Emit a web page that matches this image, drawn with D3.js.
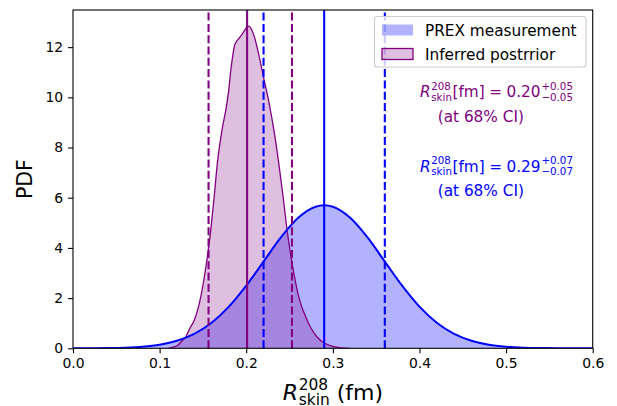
<!DOCTYPE html>
<html>
<head>
<meta charset="utf-8">
<script src="https://cdn.jsdelivr.net/npm/d3@7"></script>
<style>
  html, body { margin: 0; padding: 0; background: #fff; }
  svg { display: block; }
  text { font-family: "DejaVu Sans", sans-serif; }
</style>
</head>
<body>
<svg id="chart" width="617" height="406"></svg>
<script>
// ---------------- data ----------------
const prexX = [0.00,0.02,0.04,0.06,0.08,0.10,0.12,0.14,0.16,0.18,0.20,0.22,0.24,0.26,0.28,0.29,0.30,0.32,0.34,0.36,0.38,0.40,0.42,0.44,0.46,0.48,0.50,0.52,0.54,0.56,0.58,0.60];
const prexY = [0.001,0.003,0.010,0.026,0.063,0.143,0.299,0.574,1.016,1.658,2.494,3.457,4.416,5.199,5.641,5.699,5.641,5.199,4.416,3.457,2.494,1.658,1.016,0.574,0.299,0.143,0.063,0.026,0.010,0.003,0.001,0.0003];
// Inferred posterior PDF
const postX = [0.110,0.116,0.121,0.126,0.130,0.135,0.140,0.1475,0.154,0.159,0.163,0.1666,0.172,0.1774,0.180,0.182,0.184,0.1866,0.1916,0.196,0.2025,0.2088,0.2146,0.2203,0.2261,0.2318,0.2376,0.2426,0.2472,0.253,0.2606,0.2703,0.2818,0.290,0.300,0.310,0.320];
const postY = [0.0,0.05,0.12,0.30,0.45,0.80,1.12,2.05,3.38,4.70,6.03,7.36,8.69,9.69,10.35,11.02,11.55,12.08,12.35,12.55,12.84,12.48,11.68,10.75,9.82,8.72,7.36,6.03,4.70,3.38,2.05,1.12,0.45,0.21,0.08,0.02,0.0];
// summary lines: [median, low, high]
const prexStats = [0.29, 0.22, 0.36];
const postStats = [0.201, 0.1565, 0.2528];
const xTicks = [0.0,0.1,0.2,0.3,0.4,0.5,0.6];
const yTicks = [0,2,4,6,8,10,12];
const legendLabels = ["PREX measurement", "Inferred postrrior"];
const annotValues = [["0.20","+0.05","\u22120.05"],["0.29","+0.07","\u22120.07"]];

// ---------------- layout ----------------
const svg = d3.select("#chart");
const L = 73, R = 592.7, T = 10, B = 348.3;
const x = d3.scaleLinear().domain([0, 0.6]).range([L, R]);
const y = d3.scaleLinear().domain([0, 13.48]).range([B, T]);
const BLUE = "#0000ff", PURPLE = "#800080";

svg.append("defs").append("clipPath").attr("id","clip")
  .append("rect").attr("x",L).attr("y",T).attr("width",R-L).attr("height",B-T);
const plot = svg.append("g").attr("clip-path","url(#clip)");

const prex = prexX.map((d,i)=>({x:d,y:prexY[i]}));
const post = postX.map((d,i)=>({x:d,y:postY[i]}));
const area = d3.area().x(d=>x(d.x)).y0(y(0)).y1(d=>y(d.y)).curve(d3.curveMonotoneX);
const line = d3.line().x(d=>x(d.x)).y(d=>y(d.y)).curve(d3.curveMonotoneX);

plot.append("path").datum(prex).attr("d",area).attr("fill",BLUE).attr("fill-opacity",0.3);
plot.append("path").datum(post).attr("d",area).attr("fill",PURPLE).attr("fill-opacity",0.25);
plot.append("path").datum(post).attr("d",line).attr("fill","none").attr("stroke",PURPLE).attr("stroke-width",1.3);
plot.append("path").datum(prex).attr("d",line).attr("fill","none").attr("stroke",BLUE).attr("stroke-width",2);

function vline(v, color, dashed) {
  plot.append("line").attr("x1",x(v)).attr("x2",x(v)).attr("y1",y(0)).attr("y2",T)
    .attr("stroke",color).attr("stroke-width",2.1)
    .attr("stroke-dasharray", dashed ? "8,3.3" : null);
}
vline(postStats[0], PURPLE, false);
vline(postStats[1], PURPLE, true);
vline(postStats[2], PURPLE, true);
vline(prexStats[0], BLUE, false);
vline(prexStats[1], BLUE, true);
vline(prexStats[2], BLUE, true);

// axes
const xAxis = svg.append("g").attr("transform",`translate(0,${B})`)
  .call(d3.axisBottom(x).tickValues(xTicks).tickFormat(d3.format(".1f")).tickSize(4.9).tickPadding(4.9).tickSizeOuter(0));
const yAxis = svg.append("g").attr("transform",`translate(${L},0)`)
  .call(d3.axisLeft(y).tickValues(yTicks).tickFormat(d3.format("d")).tickSize(4.9).tickPadding(4.9).tickSizeOuter(0));
[xAxis,yAxis].forEach(a=>{
  a.selectAll("text").style("font-family","DejaVu Sans").style("font-size","13.9px").attr("fill","#000");
  a.selectAll("line").attr("stroke","#000").attr("stroke-width",1.1);
  a.select(".domain").remove();
});
// spines
svg.append("rect").attr("x",L).attr("y",T).attr("width",R-L).attr("height",B-T)
  .attr("fill","none").attr("stroke","#000").attr("stroke-width",1.1);

// axis labels
svg.append("text").attr("transform",`translate(32,${(T+B)/2}) rotate(-90)`)
  .attr("text-anchor","middle").style("font-size","20.5px").text("PDF");

function w(sel){ return sel.node().getComputedTextLength(); }

// x label: R^208_skin (fm)
(function(){
  const g = svg.append("g");
  const fs = 22, ss = 15.4, yb = 399.5;
  const tR = g.append("text").attr("y",yb).style("font-size",fs+"px").style("font-style","italic").text("R");
  const tSup = g.append("text").attr("y",yb-9.5).style("font-size",ss+"px").text("208");
  const tSub = g.append("text").attr("y",yb+5).style("font-size",ss+"px").text("skin");
  const tF = g.append("text").attr("y",yb).style("font-size",fs+"px").text("(fm)");
  const wR = w(tR)+0.8, wS = Math.max(w(tSup),w(tSub)), gap = 7, wF = w(tF);
  const total = wR + wS + gap + wF;
  let cx = (L+R)/2 - total/2;
  tR.attr("x",cx); cx += wR;
  tSup.attr("x",cx); tSub.attr("x",cx); cx += wS + gap;
  tF.attr("x",cx);
})();

// annotations
function mathLabel(x0, yb, color, vals) {
  const g = svg.append("g").attr("fill",color);
  const fs = 15.3, ss = 10.3;
  let cx = x0;
  const tR = g.append("text").attr("x",cx).attr("y",yb).style("font-size",fs+"px").style("font-style","italic").text("R");
  cx += w(tR) + 0.6;
  const s1 = g.append("text").attr("x",cx).attr("y",yb-7.3).style("font-size",ss+"px").text("208");
  const s2 = g.append("text").attr("x",cx).attr("y",yb+3.6).style("font-size",ss+"px").text("skin");
  cx += Math.max(w(s1),w(s2)) + 0.5;
  const t1 = g.append("text").attr("x",cx).attr("y",yb).style("font-size",fs+"px").text("[fm]");
  cx += w(t1) + 4.5;
  const t2 = g.append("text").attr("x",cx).attr("y",yb).style("font-size",fs+"px").text("=");
  cx += w(t2) + 4.5;
  const t3 = g.append("text").attr("x",cx).attr("y",yb).style("font-size",fs+"px").text(vals[0]);
  cx += w(t3) + 0.8;
  g.append("text").attr("x",cx).attr("y",yb-7.3).style("font-size",ss+"px").text(vals[1]);
  g.append("text").attr("x",cx).attr("y",yb+3.6).style("font-size",ss+"px").text(vals[2]);
}
mathLabel(420, 97, PURPLE, annotValues[0]);
svg.append("text").attr("x",437.7).attr("y",121.5).attr("fill",PURPLE).style("font-size","15.3px").text("(at 68% CI)");
mathLabel(420, 171.5, BLUE, annotValues[1]);
svg.append("text").attr("x",437.7).attr("y",196).attr("fill",BLUE).style("font-size","15.3px").text("(at 68% CI)");

// legend
const lg = svg.append("g");
lg.append("rect").attr("x",374.5).attr("y",16.5).attr("width",211.5).attr("height",50.5).attr("rx",3)
  .attr("fill","#fff").attr("fill-opacity",0.8).attr("stroke","#cccccc").attr("stroke-width",1.1);
lg.append("rect").attr("x",382).attr("y",24.5).attr("width",31).attr("height",11)
  .attr("fill",BLUE).attr("fill-opacity",0.3);
lg.append("rect").attr("x",382).attr("y",48.5).attr("width",31).attr("height",11)
  .attr("fill",PURPLE).attr("fill-opacity",0.25).attr("stroke",PURPLE).attr("stroke-width",1.3);
lg.append("text").attr("x",425).attr("y",35.5).style("font-size","15.3px").text(legendLabels[0]);
lg.append("text").attr("x",425).attr("y",59.5).style("font-size","15.3px").text(legendLabels[1]);
</script>
</body>
</html>
